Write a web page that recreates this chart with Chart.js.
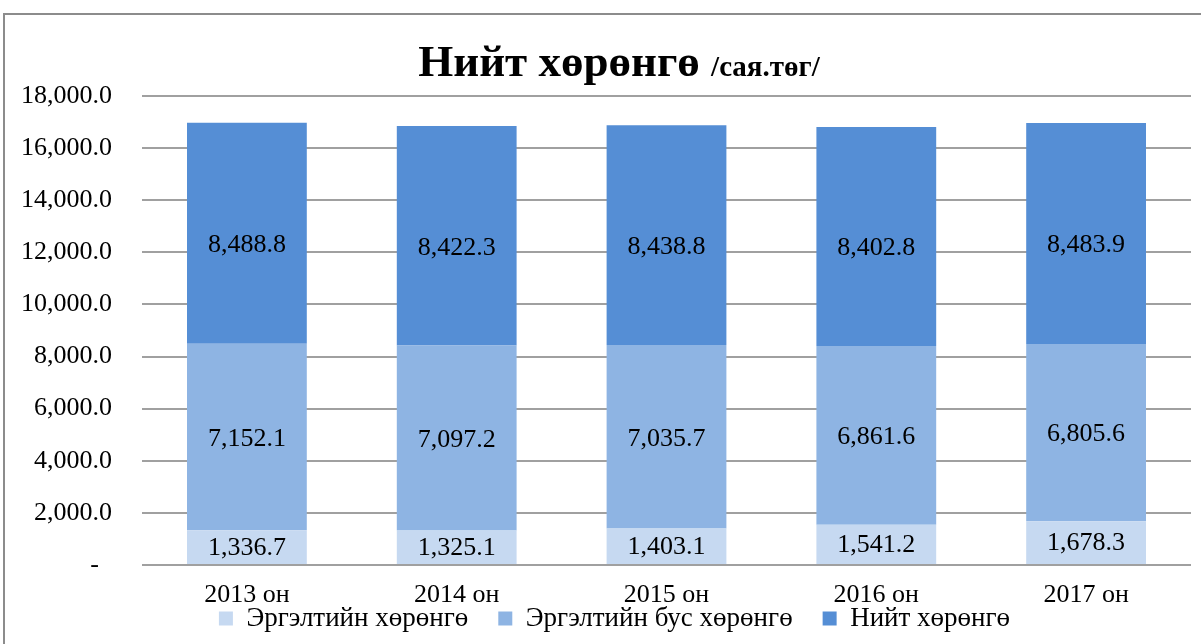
<!DOCTYPE html>
<html>
<head>
<meta charset="utf-8">
<script src="https://cdn.jsdelivr.net/npm/chart.js@4"></script>
<style>
  html, body { margin: 0; padding: 0; background: #fff; }
  #wrap { position: relative; width: 1201px; height: 644px; overflow: hidden; }
  #frame { position: absolute; left: 3px; top: 13px; width: 1300px; height: 700px;
           border-left: 2px solid #8c8c8c; border-top: 2px solid #8c8c8c; }
  #title { position: absolute; left: 0; width: 1238px; top: 35px; text-align: center;
           font-family: "Liberation Serif", "Times New Roman", serif; font-weight: bold;
           font-size: 45px; line-height: 52px; color: #000; white-space: nowrap; }
  #title span { font-size: 29px; }
  canvas { position: absolute; left: 0; top: 0; }
</style>
</head>
<body>
<div id="wrap">
  <div id="frame"></div>
  <canvas id="chart" width="1201" height="644"></canvas>
  <div id="title">Нийт хөрөнгө <span>/сая.төг/</span></div>
</div>
<script>
// Он
var years = ["2013 он", "2014 он", "2015 он", "2016 он", "2017 он"];

// Цувааны нэрс
var seriesNames = ["Эргэлтийн хөрөнгө", "Эргэлтийн бус хөрөнгө", "Нийт хөрөнгө"];

// Утгууд /сая.төг/
var currentAssets = [1336.7, 1325.1, 1403.1, 1541.2, 1678.3];
var nonCurrentAssets = [7152.1, 7097.2, 7035.7, 6861.6, 6805.6];
var totalAssets = [8488.8, 8422.3, 8438.8, 8402.8, 8483.9];

// Y тэнхлэгийн хуваарь
var yMin = 0;
var yMax = 18000;
var yStep = 2000;

var colors = ['#C6D9F1', '#8EB4E3', '#558ED5'];
var serif = '"Liberation Serif", "Times New Roman", serif';

function fmt(v) {
    if (v === 0) return "-  ";
    return v.toLocaleString("en-US", { minimumFractionDigits: 1, maximumFractionDigits: 1 });
}

// Багана дээрх утгыг бичих
var valueLabels = {
    id: "valueLabels",
    afterDatasetsDraw: function(chart) {
        var ctx = chart.ctx;
        ctx.save();
        ctx.font = "26px " + serif;
        ctx.fillStyle = "#000";
        ctx.textAlign = "center";
        ctx.textBaseline = "middle";
        chart.data.datasets.forEach(function(ds, i) {
            var meta = chart.getDatasetMeta(i);
            meta.data.forEach(function(bar, j) {
                var y = (bar.y + bar.base) / 2 + (ds.labelShift || 0);
                ctx.fillText(fmt(ds.data[j]), bar.x, y);
            });
        });
        ctx.restore();
    }
};

// X тэнхлэгийн бичиг доошоо гарах, тайлбарыг бага зэрэг баруун тийш
var layoutTweak = {
    id: "layoutTweak",
    afterLayout: function(chart) {
        chart.scales.x.bottom = chart.height;
        chart.legend.left += 19;
        chart.legend.right += 19;
    }
};

function createData(label, data, color, shift) {
    return {
        label: label,
        data: data,
        backgroundColor: color,
        borderWidth: 0,
        categoryPercentage: 1.0,
        barPercentage: 0.571,
        labelShift: shift
    };
}

new Chart(document.getElementById("chart"), {
    type: "bar",
    data: {
        labels: years,
        datasets: [
            createData(seriesNames[0], currentAssets, colors[0], 1),
            createData(seriesNames[1], nonCurrentAssets, colors[1], 2),
            createData(seriesNames[2], totalAssets, colors[2], 12)
        ]
    },
    options: {
        responsive: false,
        animation: false,
        layout: { padding: { top: 96, left: 0, right: 10, bottom: 2 } },
        plugins: {
            title: { display: false },
            tooltip: { enabled: false },
            legend: {
                position: "bottom",
                labels: {
                    font: { family: serif, size: 27 },
                    color: "#000",
                    boxWidth: 14,
                    boxHeight: 14,
                    padding: 30
                }
            }
        },
        scales: {
            x: {
                stacked: true,
                grid: { display: false },
                border: { display: false },
                ticks: { font: { family: serif, size: 26 }, color: "#000", padding: 7 },
                afterFit: function(scale) { scale.height = 10; }
            },
            y: {
                stacked: true,
                min: yMin,
                max: yMax,
                ticks: {
                    stepSize: yStep,
                    font: { family: serif, size: 26 },
                    color: "#000",
                    padding: 30,
                    callback: function(v) { return fmt(v); }
                },
                grid: { color: "#a0a0a0", lineWidth: 2, drawTicks: false },
                border: { display: false },
                afterFit: function(scale) { scale.width = 142; }
            }
        }
    },
    plugins: [valueLabels, layoutTweak]
});
</script>
</body>
</html>
